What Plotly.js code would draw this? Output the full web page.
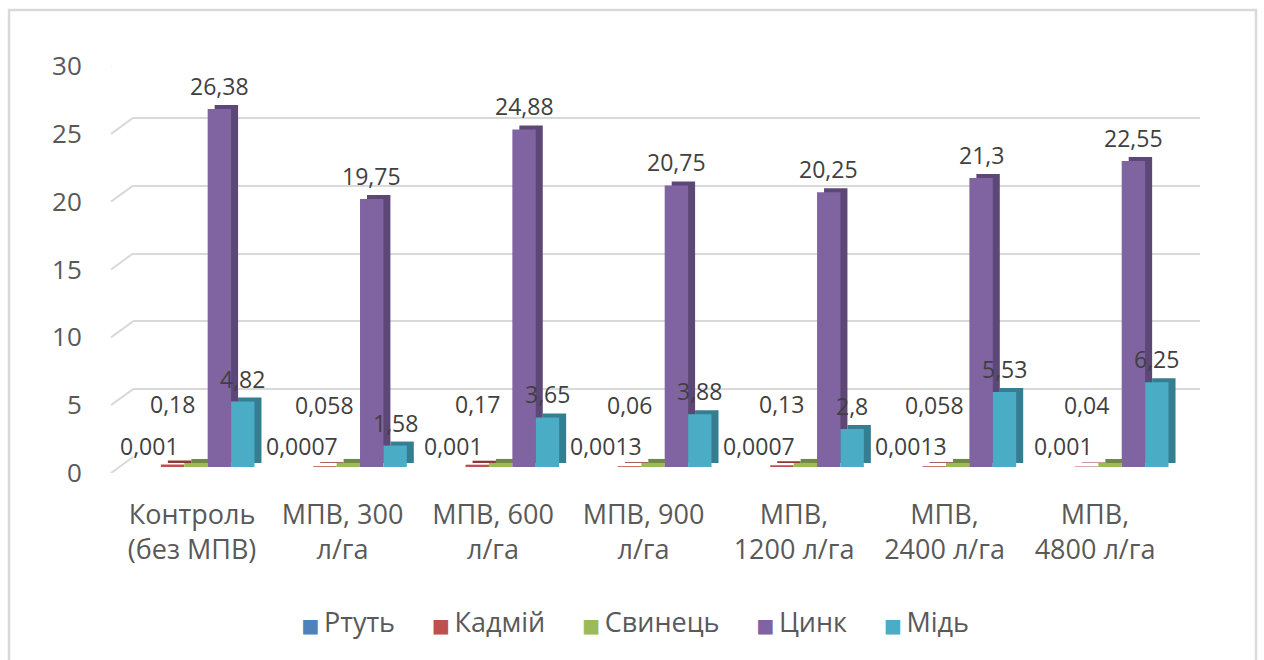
<!DOCTYPE html>
<html>
<head>
<meta charset="utf-8">
<script src="https://cdn.plot.ly/plotly-3.0.1.min.js"></script>
<style>html,body{margin:0;padding:0;background:#fff;}#chart{width:1264px;height:660px;}</style>
</head>
<body>
<div id="chart"></div>
<script>
// ---- data ----
const categories = ["Контроль<br>(без МПВ)", "МПВ, 300<br>л/га", "МПВ, 600<br>л/га", "МПВ, 900<br>л/га", "МПВ,<br>1200 л/га", "МПВ,<br>2400 л/га", "МПВ,<br>4800 л/га"];
const seriesNames = ["Ртуть", "Кадмій", "Свинець", "Цинк", "Мідь"];
const mercury = [0.001, 0.0007, 0.001, 0.0013, 0.0007, 0.0013, 0.001];
const cadmium = [0.18, 0.058, 0.17, 0.06, 0.13, 0.058, 0.04];
const lead    = [0.3, 0.3, 0.3, 0.3, 0.3, 0.3, 0.3];
const zinc    = [26.38, 19.75, 24.88, 20.75, 20.25, 21.3, 22.55];
const copper  = [4.82, 1.58, 3.65, 3.88, 2.8, 5.53, 6.25];
const yTicks  = [0, 5, 10, 15, 20, 25, 30];
const labelledSeries = [true, true, false, true, true];

// ---- style ----
const W = 1264, H = 660;
const fx = p => p / W;
const fy = p => 1 - p / H;
const frontColors  = ["#4F81BD", "#C0504D", "#9BBB59", "#8064A2", "#4BACC6"];
const shadeColors  = ["#385D8A", "#8C3836", "#71893F", "#5C4776", "#357D91"];
const allSeries = [mercury, cadmium, lead, zinc, copper];
const groupW = 152.3, bargap = 0.232;
const barW = groupW * (1 - bargap) / 5;
const labelYShift = [3, 43, 43, 5, 5];
const fontFam = "Open Sans, Liberation Sans, sans-serif";
const key = c => '<span style="color:' + c + ';font-family:DejaVu Sans;font-size:19px">■</span>\u2009';

const traces = [];
// invisible helper for grid subplot
traces.push({type: "scatter", mode: "markers", x: categories, y: zinc, xaxis: "x", yaxis: "y",
  marker: {opacity: 0}, showlegend: false, hoverinfo: "skip"});
// shadow (depth) bars
allSeries.forEach((s, i) => traces.push({
  type: "bar", x: categories, y: s, xaxis: "x2", yaxis: "y2", name: seriesNames[i],
  marker: {color: shadeColors[i]}, showlegend: false, hoverinfo: "skip"
}));
// front bars
allSeries.forEach((s, i) => traces.push({
  type: "bar", x: categories, y: s, xaxis: "x3", yaxis: "y3", name: seriesNames[i],
  marker: {color: frontColors[i]}, cliponaxis: false, showlegend: false
}));
// legend entries; coloured square key is part of the entry text
seriesNames.forEach((n, i) => traces.push({
  type: "scatter", mode: "markers", x: categories, y: categories.map(() => null),
  xaxis: "x4", yaxis: "y4", name: key(frontColors[i]) + n + "\u00a0",
  marker: {symbol: "square", size: 1, color: "rgba(0,0,0,0)", line: {width: 0}}, hoverinfo: "skip"
}));

const annotations = [];
allSeries.forEach((s, si) => {
  if (!labelledSeries[si]) return;
  s.forEach((v, ci) => annotations.push({
    x: categories[ci], y: v, xref: "x3", yref: "y3",
    text: String(v).replace(".", ","), showarrow: false,
    xshift: (si - 2) * barW, yshift: labelYShift[si], yanchor: "bottom",
    font: {family: fontFam, size: 23, color: "#404040"}
  }));
});

const backOffset = 16 / 13.57;
const shapes = [{type: "rect", xref: "paper", yref: "paper", x0: fx(9), x1: fx(1256), y0: -0.01, y1: fy(10),
  line: {color: "#d9d9d9", width: 2.5}}];
yTicks.forEach(t => shapes.push({type: "line", xref: "paper", yref: "y4", x0: fx(111), x1: fx(133),
  y0: t, y1: t + backOffset, line: {color: "#d9d9d9", width: 2}}));

const catAxis = (dom, anchor, extra) => Object.assign({
  domain: dom, anchor: anchor, type: "category", categoryarray: categories, categoryorder: "array",
  range: [-0.5, 6.5], showticklabels: false, showgrid: false, zeroline: false, showline: false, ticks: "", fixedrange: true
}, extra || {});
const valAxis = (dom, anchor, extra) => Object.assign({
  domain: dom, anchor: anchor, range: [0, 30], showticklabels: false, showgrid: false, zeroline: false,
  showline: false, ticks: "", fixedrange: true
}, extra || {});

const layout = {
  width: W, height: H, margin: {l: 0, r: 0, t: 0, b: 0},
  paper_bgcolor: "#ffffff", plot_bgcolor: "rgba(0,0,0,0)",
  barmode: "group", bargap: bargap, bargroupgap: 0,
  font: {family: fontFam, color: "#595959"},
  showlegend: true,
  legend: {orientation: "h", x: fx(629), xanchor: "center", y: fy(622), yanchor: "middle",
    font: {family: fontFam, size: 27, color: "#595959"}, traceorder: "normal", itemclick: false,
    itemwidth: 30, indentation: -15},
  xaxis:  catAxis([fx(133), fx(1200)], "y"),
  yaxis:  valAxis([fy(457), fy(50)], "x", {showgrid: true, gridcolor: "#d9d9d9", gridwidth: 2, tickvals: yTicks}),
  xaxis2: catAxis([fx(119.8 + 7), fx(1186.2 + 7)], "y2"),
  yaxis2: valAxis([fy(467 - 4), fy(60 - 4)], "x2"),
  xaxis3: catAxis([fx(119.8), fx(1186.2)], "y3"),
  yaxis3: valAxis([fy(467), fy(60)], "x3"),
  xaxis4: catAxis([fx(116.75), fx(1170.25)], "y4", {showticklabels: true, tickangle: 0, ticklabelstandoff: 23,
    tickfont: {family: fontFam, size: 27, color: "#595959"}}),
  yaxis4: valAxis([fy(473), fy(66)], "x4", {showticklabels: true, tickvals: yTicks, ticklabelstandoff: 34,
    tickfont: {family: fontFam, size: 26, color: "#595959"}}),
  annotations: annotations,
  shapes: shapes
};

Plotly.newPlot("chart", traces, layout, {displayModeBar: false, staticPlot: true});
</script>
</body>
</html>
